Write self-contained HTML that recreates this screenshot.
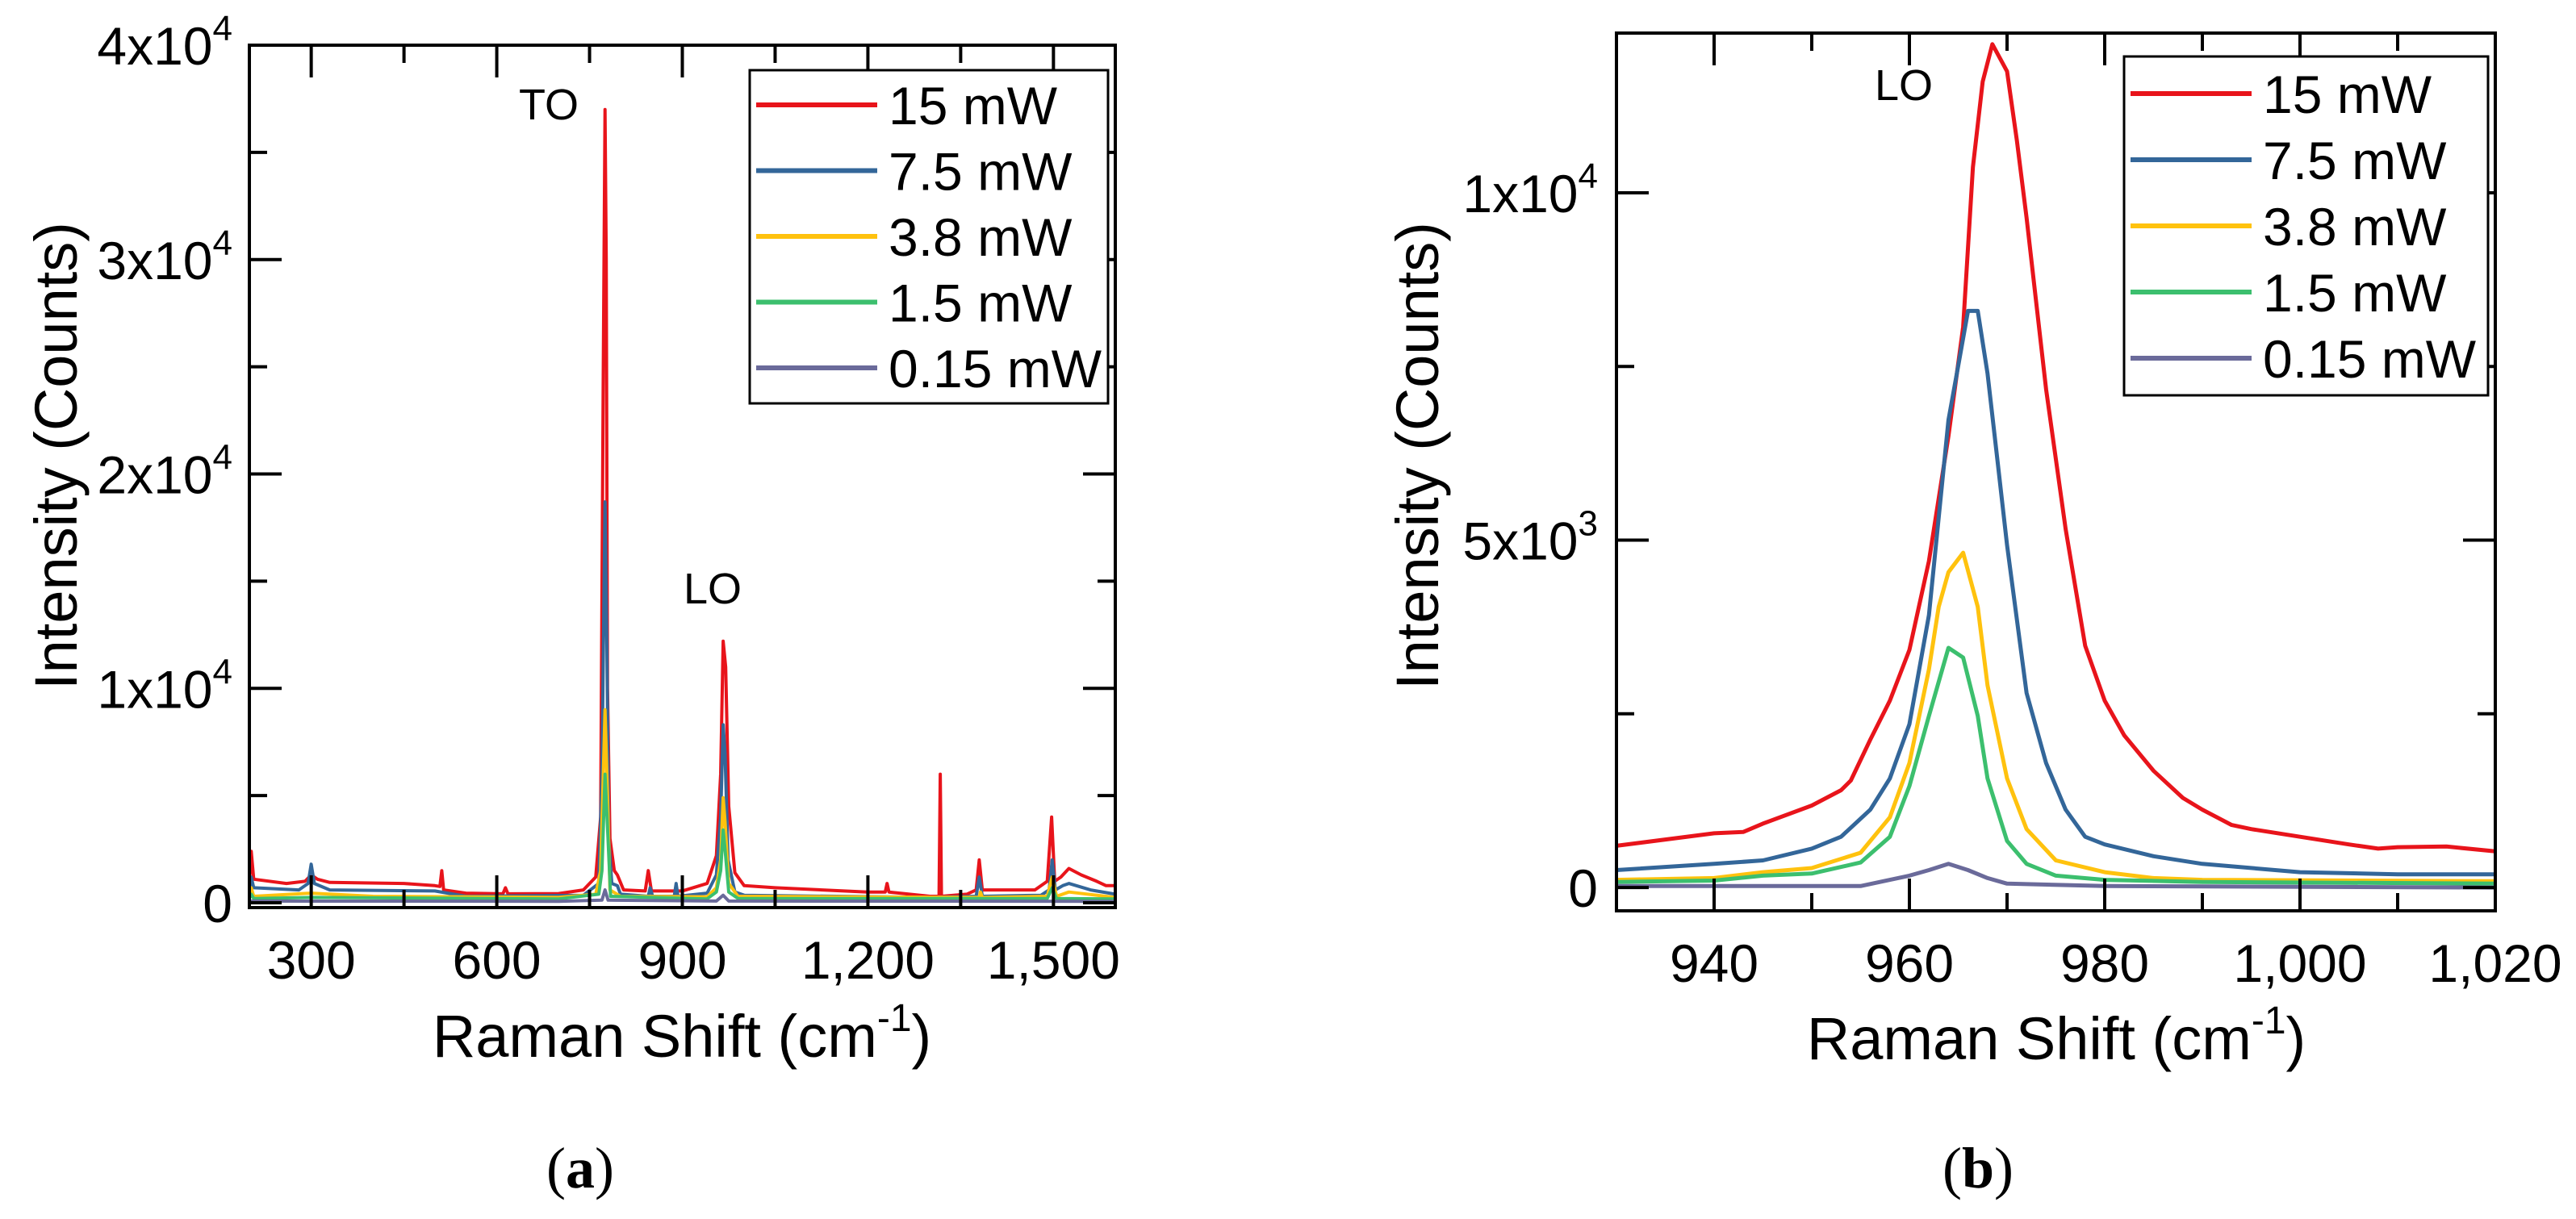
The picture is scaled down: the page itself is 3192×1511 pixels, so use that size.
<!DOCTYPE html>
<html><head><meta charset="utf-8"><style>
html,body{margin:0;padding:0;background:#fff}
svg text{font-family:"Liberation Sans",Arial,sans-serif;fill:#000}
</style></head><body>
<svg id="fig" xmlns="http://www.w3.org/2000/svg" width="3192" height="1506" viewBox="0 0 3192 1506"></svg>
<script>
// ---------- Panel (a) data: [shift, counts] points ----------
const seriesNamesA = ["15 mW","7.5 mW","3.8 mW","1.5 mW","0.15 mW"];
const colors = ["#e8141b","#336699","#ffc20e","#3cbf6e","#6a6a9a"];
const redA = [[200,900],[203,2400],[207,1100],[260,900],[290,1000],[300,1300],[310,1100],[330,950],[450,900],[500,800],[508,760],[511,1500],[514,600],[550,450],[610,420],[614,700],[618,420],[700,430],[740,600],[760,1200],[768,4000],[772,24000],[775,37000],[777,30000],[779,10000],[783,3000],[790,1500],[795,1300],[805,600],[840,550],[845,1500],[850,550],[900,550],[940,900],[955,2200],[962,6000],[966,12200],[970,11000],[975,4500],[985,1400],[1000,800],[1050,700],[1200,500],[1228,500],[1231,900],[1234,500],[1300,300],[1315,300],[1317,6000],[1319,300],[1360,400],[1375,600],[1380,2000],[1385,600],[1470,600],[1490,1000],[1497,4000],[1502,1000],[1512,1200],[1525,1600],[1545,1300],[1570,1000],[1585,800],[1600,800]];
const blueA = [[200,600],[203,1200],[207,700],[280,600],[295,900],[300,1800],[305,900],[330,600],[500,550],[550,300],[740,350],[765,900],[770,6000],[775,18700],[778,12000],[781,3000],[786,900],[795,800],[800,400],[845,300],[848,700],[852,300],[887,300],[890,900],[893,300],[940,450],[955,1300],[962,4000],[966,8300],[969,7000],[974,2000],[985,500],[1000,350],[1300,250],[1375,300],[1380,1200],[1385,300],[1480,350],[1493,600],[1498,2000],[1503,600],[1515,800],[1525,900],[1560,600],[1600,400]];
const yellowA = [[200,300],[203,700],[207,300],[300,450],[400,300],[700,250],[760,400],[768,1500],[775,9000],[779,5000],[783,600],[800,300],[940,280],[955,700],[962,2000],[966,4900],[969,3800],[975,900],[990,300],[1380,250],[1382,500],[1385,250],[1490,300],[1498,1200],[1505,300],[1525,500],[1600,250]];
const greenA = [[200,200],[203,400],[207,200],[300,250],[700,180],[765,400],[770,1500],[775,6000],[779,3500],[784,300],[940,180],[955,500],[962,1500],[966,3400],[969,2500],[975,500],[990,200],[1490,200],[1498,700],[1505,200],[1600,180]];
const purpleA = [[200,80],[700,70],[770,120],[775,600],[780,120],[955,80],[966,350],[975,80],[1600,70]];
const seriesA = [redA,blueA,yellowA,greenA,purpleA];
const xTicksA = [300,600,900,1200,1500];
const xTickLabelsA = ["300","600","900","1,200","1,500"];
const yTicksA = [0,10000,20000,30000,40000];
const yTickMantA = ["0","1x10","2x10","3x10","4x10"];

// ---------- Panel (b) data ----------
const redB = [[930,600],[940,780],[943,800],[945,920],[950,1180],[953,1400],[954,1540],[956,2130],[958,2690],[960,3420],[962,4700],[964,6500],[965.5,8070],[966.5,10370],[967.5,11600],[968.5,12140],[970,11750],[971,10760],[972,9640],[974,7170],[976,5160],[978,3480],[980,2690],[982,2190],[985,1680],[988,1290],[990,1120],[993,900],[995,840],[1000,730],[1005,620],[1008,560],[1010,580],[1015,590],[1020,520]];
const blueB = [[930,250],[940,340],[945,390],[950,560],[953,730],[956,1120],[958,1570],[960,2350],[962,3920],[964,6730],[965,7510],[966,8300],[967,8300],[968,7400],[969,6170],[970,4930],[972,2800],[974,1790],[976,1120],[978,730],[980,620],[985,450],[990,340],[1000,220],[1010,190],[1020,190]];
const yellowB = [[930,110],[940,135],[945,220],[950,280],[955,500],[958,1010],[960,1790],[962,3140],[963,4040],[964,4540],[965.5,4820],[967,4040],[968,2910],[970,1570],[972,840],[975,390],[980,220],[985,135],[990,110],[1020,90]];
const greenB = [[930,80],[940,100],[945,170],[950,200],[955,360],[958,730],[960,1460],[962,2470],[964,3450],[965.5,3310],[967,2470],[968,1570],[970,670],[972,340],[975,170],[980,110],[990,80],[1020,55]];
const purpleB = [[930,20],[955,20],[960,170],[962,250],[964,340],[966,250],[968,135],[970,55],[980,20],[1020,0]];
const seriesB = [redB,blueB,yellowB,greenB,purpleB];
const xTicksB = [940,960,980,1000,1020];
const xTickLabelsB = ["940","960","980","1,000","1,020"];
const yTicksB = [0,5000,10000];
const yTickMantB = ["0","5x10","1x10"];
const yTickExpB = ["","3","4"];

const NS="http://www.w3.org/2000/svg";
const svg=document.getElementById('fig');
function mk(tag,attrs,parent){const e=document.createElementNS(NS,tag);for(const k in attrs)e.setAttribute(k,attrs[k]);(parent||svg).appendChild(e);return e;}

function panel(cfg){
  const g=mk('g',{});
  
  
  const sx=v=>cfg.L+(v-cfg.x0)/(cfg.x1-cfg.x0)*(cfg.R-cfg.L);
  const sy=v=>cfg.B-(v-cfg.y0)/(cfg.y1-cfg.y0)*(cfg.B-cfg.T);
  cfg.series.forEach((pts,i)=>{
    const p=mk('polyline',{points:pts.map(q=>sx(q[0]).toFixed(1)+','+sy(q[1]).toFixed(1)).join(' '),fill:'none',stroke:colors[i],'stroke-width':cfg.lw,'stroke-linejoin':'round'},g);
    
    
  });
  const fr=mk('rect',{x:cfg.L,y:cfg.T,width:cfg.R-cfg.L,height:cfg.B-cfg.T,fill:'none',stroke:'#000','stroke-width':4},g);
  
  
  cfg.xMinor.forEach(v=>{const x=sx(v);
    mk('line',{x1:x,x2:x,y1:cfg.B,y2:cfg.B-22,stroke:'#000','stroke-width':4},g);
    mk('line',{x1:x,x2:x,y1:cfg.T,y2:cfg.T+22,stroke:'#000','stroke-width':4},g);});
  cfg.xTicks.forEach((v,i)=>{const x=sx(v);
    mk('line',{x1:x,x2:x,y1:cfg.B,y2:cfg.B-40,stroke:'#000','stroke-width':4},g);
    mk('line',{x1:x,x2:x,y1:cfg.T,y2:cfg.T+40,stroke:'#000','stroke-width':4},g);
    const t=mk('text',{x:x,y:cfg.B+88,'font-size':66,'text-anchor':'middle'},g);t.textContent=cfg.xLabels[i];
    
    });
  cfg.yMinor.forEach(v=>{const y=sy(v);
    mk('line',{x1:cfg.L,x2:cfg.L+22,y1:y,y2:y,stroke:'#000','stroke-width':4},g);
    mk('line',{x1:cfg.R,x2:cfg.R-22,y1:y,y2:y,stroke:'#000','stroke-width':4},g);});
  cfg.yTicks.forEach((v,i)=>{const y=sy(v);
    mk('line',{x1:cfg.L,x2:cfg.L+40,y1:y,y2:y,stroke:'#000','stroke-width':4},g);
    mk('line',{x1:cfg.R,x2:cfg.R-40,y1:y,y2:y,stroke:'#000','stroke-width':4},g);
    const t=mk('text',{x:cfg.yLabX,y:y+24,'font-size':66,'text-anchor':'end'},g);
    
    
    const e=cfg.yExp[i];
    if(e){t.appendChild(document.createTextNode(cfg.yMant[i]));const s=mk('tspan',{dy:-30,'font-size':44},t);s.textContent=e;}
    else t.textContent=cfg.yMant[i];});
  const xt=mk('text',{x:cfg.xTitleX,y:cfg.xTitleY,'font-size':74,'text-anchor':'middle'},g);
  
  
  xt.appendChild(document.createTextNode('Raman Shift (cm'));
  const sup=mk('tspan',{dy:-32,'font-size':48},xt);sup.textContent='-1';
  const cl=mk('tspan',{dy:32},xt);cl.textContent=')';
  const yt=mk('text',{x:0,y:0,'font-size':74,'text-anchor':'middle',transform:`translate(${cfg.yTitleX},${cfg.yTitleY}) rotate(-90)`},g);
  yt.textContent='Intensity (Counts)';
  
  
  cfg.peaks.forEach(p=>{const t=mk('text',{x:p[1],y:p[2],'font-size':54,'text-anchor':'middle'},g);t.textContent=p[0];
    
    });
  const lg=mk('g',{},g);
  
  
  mk('rect',{x:cfg.lg.x,y:cfg.lg.y,width:cfg.lg.w,height:cfg.lg.h,fill:'#fff',stroke:'#000','stroke-width':3},lg);
  seriesNamesA.forEach((n,i)=>{const y=cfg.lg.y+cfg.lg.first+i*cfg.lg.step;
    const e=mk('g',{},lg);
    
    
    mk('line',{x1:cfg.lg.x+8,x2:cfg.lg.x+158,y1:y,y2:y,stroke:colors[i],'stroke-width':6},e);
    const t=mk('text',{x:cfg.lg.x+172,y:y+24,'font-size':66},e);t.textContent=n;});
  const c=mk('text',{x:cfg.capX,y:1472,'font-size':72,'text-anchor':'middle'},g);
  c.setAttribute('style','font-family:"Liberation Serif",serif');
  
  
  c.appendChild(document.createTextNode('('));
  const b=mk('tspan',{'font-weight':'bold'},c);b.textContent=cfg.cap;
  c.appendChild(document.createTextNode(')'));
}

panel({name:'panel-a',L:309,R:1382,T:56,B:1125,x0:200,x1:1600,y0:-225,y1:40000,lw:4,
  series:seriesA,xTicks:xTicksA,xLabels:xTickLabelsA,xMinor:[450,750,1050,1350],
  yTicks:yTicksA,yMant:yTickMantA,yExp:["","4","4","4","4"],yMinor:[5000,15000,25000,35000],
  yLabX:288,xTitleX:845,xTitleY:1310,yTitleX:95,yTitleY:565,
  peaks:[["TO",680,148],["LO",883,748]],
  lg:{x:929,y:87,w:444,h:413,first:43,step:81.5},capX:719,cap:'a'});

panel({name:'panel-b',L:2003,R:3092,T:41,B:1129,x0:930,x1:1020,y0:-336,y1:12300,lw:5,
  series:seriesB,xTicks:xTicksB,xLabels:xTickLabelsB,xMinor:[950,970,990,1010],
  yTicks:yTicksB,yMant:yTickMantB,yExp:yTickExpB,yMinor:[2500,7500],
  yLabX:1980,xTitleX:2548,xTitleY:1313,yTitleX:1782,yTitleY:565,
  peaks:[["LO",2359,124]],
  lg:{x:2632,y:70,w:451,h:420,first:46,step:82},capX:2451,cap:'b'});
</script>
</body></html>
